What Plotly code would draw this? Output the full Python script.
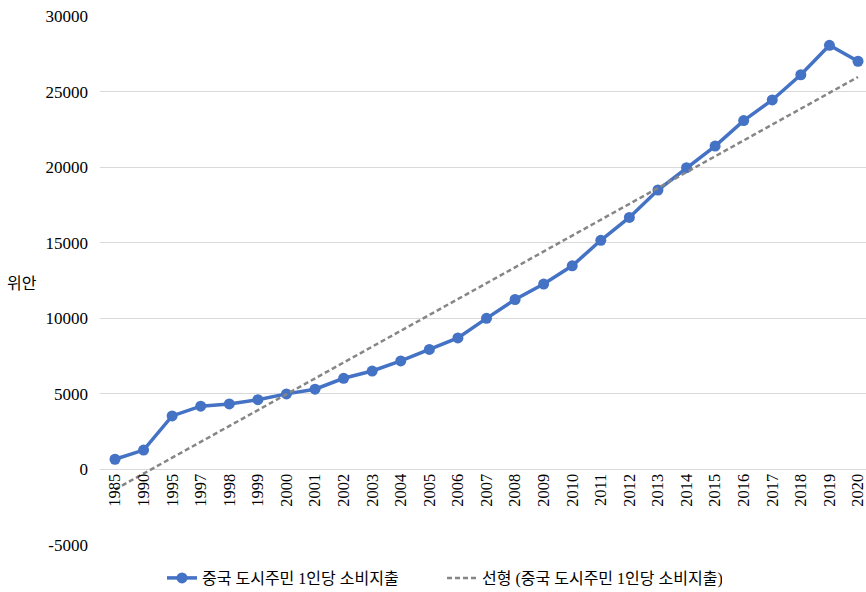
import numpy as np
import plotly.graph_objects as go

# Urban per-capita consumption expenditure in China (yuan)
years = ["1985", "1990", "1995", "1997", "1998", "1999", "2000", "2001", "2002",
         "2003", "2004", "2005", "2006", "2007", "2008", "2009", "2010", "2011",
         "2012", "2013", "2014", "2015", "2016", "2017", "2018", "2019", "2020"]
spending = [673, 1279, 3538, 4186, 4332, 4616, 4998, 5309, 6030, 6511, 7182,
            7943, 8697, 9997, 11243, 12265, 13471, 15161, 16674, 18488, 19968,
            21392, 23079, 24445, 26112, 28063, 27007]
y_ticks = [-5000, 0, 5000, 10000, 15000, 20000, 25000, 30000]

series_name = "중국 도시주민 1인당 소비지출"
trend_name = "선형 (중국 도시주민 1인당 소비지출)"

# linear trendline on the category index (1..n)
idx = np.arange(1, len(spending) + 1)
slope, intercept = np.polyfit(idx, spending, 1)
trend = slope * idx + intercept

FONT = "Liberation Serif, Noto Sans CJK KR, serif"
BLUE = "#4472C4"

fig = go.Figure()
fig.add_trace(go.Scatter(
    x=years, y=spending, name=series_name, mode="lines+markers",
    line=dict(color=BLUE, width=3.5),
    marker=dict(color=BLUE, size=11),
))
fig.add_trace(go.Scatter(
    x=years, y=trend, name=trend_name, mode="lines",
    line=dict(color="#868686", width=2.5, dash="5px,3px"),
))

fig.update_layout(
    width=866, height=592,
    margin=dict(l=100, r=0, t=16, b=47, autoexpand=False),
    paper_bgcolor="white", plot_bgcolor="white",
    font=dict(family=FONT, size=17, color="#000000"),
    showlegend=True,
    legend=dict(orientation="h", x=162 / 866, xref="container", xanchor="left",
                y=14 / 592, yref="container", yanchor="middle",
                font=dict(family=FONT, size=16), entrywidth=235,
                traceorder="normal"),
    hovermode=False,
    xaxis=dict(
        type="category", range=[-0.525, 26.28], automargin=False,
        tickangle=-90, showgrid=False, zeroline=False, showline=False,
        ticks="", anchor="free", position=5000 / 35000,
        tickfont=dict(family=FONT, size=16.5),
    ),
    yaxis=dict(
        range=[-5000, 30000], tickvals=y_ticks, automargin=False,
        ticktext=[str(v) for v in y_ticks],
        showgrid=True, gridcolor="#D9D9D9", gridwidth=1,
        zeroline=True, zerolinecolor="#D9D9D9", zerolinewidth=1,
        showline=False, ticks="", ticklabelstandoff=11,
        tickfont=dict(family=FONT, size=17),
    ),
    annotations=[dict(
        text="위안", xref="paper", yref="paper", x=-0.102, y=0.495,
        xanchor="center", yanchor="middle", showarrow=False,
        font=dict(family=FONT, size=16),
    )],
)

fig.write_html("out.html")
